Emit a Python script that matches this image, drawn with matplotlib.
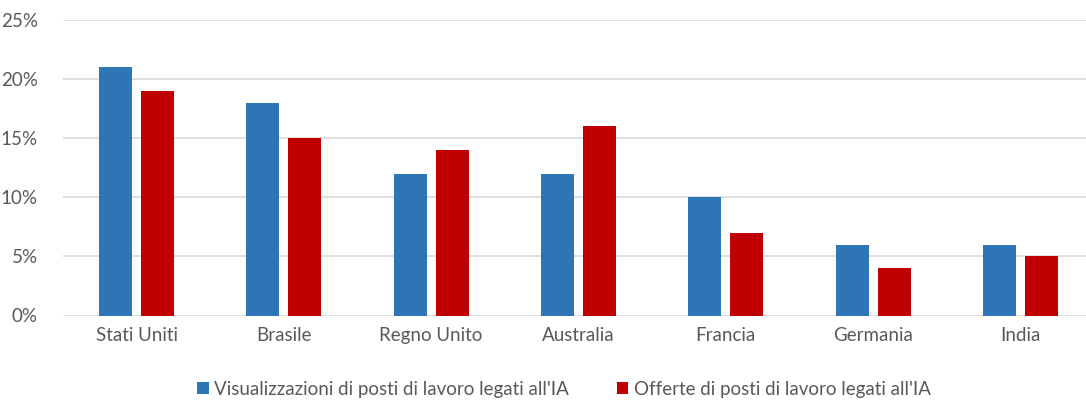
import matplotlib
matplotlib.use("Agg")
import matplotlib.pyplot as plt
import numpy as np
from matplotlib.ticker import FuncFormatter

categories = ["Stati Uniti", "Brasile", "Regno Unito", "Australia", "Francia", "Germania", "India"]
views = [21, 18, 12, 12, 10, 6, 6]
offers = [19, 15, 14, 16, 7, 4, 5]
series_names = ["Visualizzazioni di posti di lavoro legati all'IA",
                "Offerte di posti di lavoro legati all'IA"]

plt.rcParams['font.family'] = ['Lato', 'DejaVu Sans']
txt = '#595959'

fig = plt.figure(figsize=(10.86, 4.0), dpi=100)
left_px, right_px = 62.85, 1094.0
ax = fig.add_axes([left_px/1086, 1-315.5/400, (right_px-left_px)/1086, 295.5/400])

x = np.arange(len(categories))
w = 0.224
off = 0.1426
ax.bar(x - off, views, w, color='#2E75B6', label=series_names[0], zorder=3)
ax.bar(x + off, offers, w, color='#C00000', label=series_names[1], zorder=3)

ax.set_xlim(-0.5, len(categories) - 0.5)
ax.set_ylim(0, 25)
ax.set_yticks(range(0, 26, 5))
ax.yaxis.set_major_formatter(FuncFormatter(lambda v, p: f"{int(v)}%"))
ax.set_xticks(x)
ax.set_xticklabels(categories)
ax.grid(axis='y', color='#D9D9D9', linewidth=1.2, zorder=0)
for s in ax.spines.values():
    s.set_visible(False)
ax.tick_params(axis='both', length=0, labelsize=13.5, colors=txt)
ax.tick_params(axis='x', pad=8)
ax.tick_params(axis='y', pad=18)

leg = fig.legend(loc='center', bbox_to_anchor=(0.5195, 1-389/400), ncol=2, frameon=False,
                 fontsize=13.5, handlelength=0.6, handleheight=0.6, handletextpad=0.3,
                 columnspacing=2.55, labelcolor=txt)

fig.savefig("out.png", dpi=100)
